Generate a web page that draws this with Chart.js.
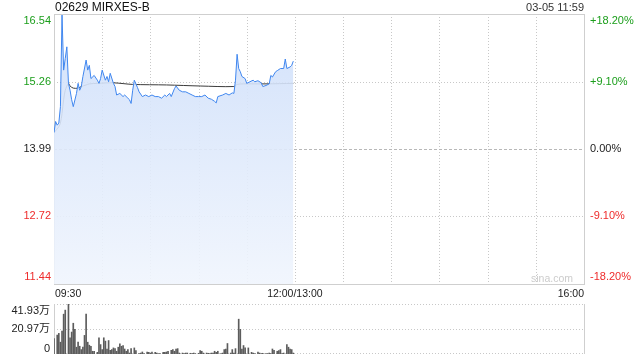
<!DOCTYPE html>
<html>
<head>
<meta charset="utf-8">
<script src="https://cdn.jsdelivr.net/npm/chart.js@4.4.0/dist/chart.umd.min.js"></script>
<style>
  body { margin: 0; background: #fff; width: 640px; height: 360px; overflow: hidden; position: relative; }
  canvas { position: absolute; left: 0; }
  #main { top: 0; }
  #vol { top: 300px; }
</style>
</head>
<body>
<canvas id="main" width="640" height="300" style="width:640px;height:300px"></canvas>
<canvas id="vol" width="640" height="60" style="width:640px;height:60px"></canvas>
<script>
// minutes since 09:30 (lunch break removed, 150 = 12:00/13:00)
var priceMinutes = [0, 1, 2, 3, 4, 5, 6, 7, 8, 9, 10, 11, 12, 14, 15, 16, 17, 18, 20, 21, 22, 23, 25, 27, 28, 29, 30, 32, 33, 34, 35, 37, 38, 39, 41, 43, 44, 46, 47, 48, 49, 50, 52, 53, 55, 57, 59, 61, 63, 65, 67, 69, 70, 72, 73, 75, 76, 78, 80, 82, 84, 86, 88, 90, 92, 94, 96, 98, 100, 101, 102, 105, 107, 109, 111, 112, 113, 114, 115, 116, 117, 119, 120, 122, 124, 125, 127, 129, 130, 132, 134, 135, 136, 138, 139, 141, 143, 144, 145, 147, 148, 149];
var prices = [14.30, 14.51, 14.44, 14.48, 14.79, 16.52, 15.48, 15.70, 15.92, 15.23, 15.10, 14.92, 14.79, 15.04, 15.23, 15.10, 15.17, 15.36, 15.67, 15.48, 15.57, 15.32, 15.38, 15.29, 15.23, 15.32, 15.48, 15.29, 15.36, 15.26, 15.42, 15.23, 15.17, 15.01, 15.04, 14.98, 15.01, 14.95, 14.92, 14.85, 15.10, 15.29, 15.15, 15.07, 14.98, 15.01, 14.98, 15.01, 14.98, 14.98, 14.95, 15.01, 14.98, 15.04, 14.98, 15.13, 15.18, 15.10, 15.07, 15.07, 15.04, 15.01, 14.98, 14.98, 14.98, 15.01, 14.95, 14.93, 14.89, 14.86, 14.98, 15.01, 15.04, 15.01, 15.05, 15.04, 15.29, 15.78, 15.51, 15.45, 15.36, 15.32, 15.23, 15.26, 15.29, 15.26, 15.28, 15.24, 15.17, 15.19, 15.22, 15.38, 15.35, 15.45, 15.47, 15.51, 15.51, 15.69, 15.51, 15.54, 15.57, 15.65];

var avgMinutes = [0, 3, 4, 5, 6, 7, 9, 10, 12, 15, 17, 20, 22, 27, 37, 49, 70, 91, 112, 114, 118, 132, 149];
var avgPrices = [14.30, 14.41, 14.48, 14.66, 14.92, 15.10, 15.23, 15.18, 15.14, 15.14, 15.17, 15.20, 15.22, 15.23, 15.24, 15.21, 15.20, 15.18, 15.17, 15.21, 15.22, 15.22, 15.23];

// volume in 万 shares
var volMinutes = [0, 2, 3, 4, 5, 6, 7, 9, 10, 11, 12, 13, 14, 15, 16, 17, 18, 19, 20, 21, 22, 23, 24, 25, 27, 28, 29, 30, 31, 32, 33, 34, 35, 36, 37, 38, 39, 40, 41, 42, 43, 44, 45, 46, 47, 48,
  50, 51, 53, 54, 55, 56, 58, 59, 60, 61, 63, 64, 65, 66, 68, 69, 70, 71, 73, 74, 75, 76, 77, 78, 80, 81, 82, 83, 85, 86, 87, 88, 90, 91, 92, 93, 95, 96, 97, 98,
  99, 100, 101, 102, 104, 105, 106, 107, 108, 110, 111, 112, 113, 115, 116, 117, 118, 119, 121, 123, 124, 125, 127, 128, 129, 130, 132, 133, 134, 135, 136, 137, 139, 140, 141, 142, 143, 145, 146, 147, 148, 149];
var volumes = [13.0, 15.9, 17.3, 9.9, 19.3, 33.4, 36.8, 41.93, 13.6, 18.4, 25.8, 20.7, 5.7, 9.9, 6.5, 3.7, 5.7, 15.6, 33.4, 9.9, 7.4, 6.5, 2.3, 2.3, 1.4, 13.6, 7.9, 3.7, 13.6, 10.8, 4.2, 11.3, 3.1, 3.7, 5.1, 4.5, 2.3, 5.7, 8.5, 6.5, 7.1, 4.2, 2.3, 3.7, 0.8, 4.5,
  5.1, 2.8, 0.3, 0.8, 1.7, 0.3, 1.7, 1.4, 0.8, 1.7, 1.4, 0.8, 0.3, 0.3, 1.4, 1.4, 1.7, 2.3, 3.1, 3.7, 2.3, 4.2, 4.5, 0.8, 0.8, 0.3, 0.8, 0.8, 0.6, 0.3, 0.8, 0.3, 0.6, 2.8, 2.3, 0.8, 0.8, 0.6, 0.3, 0.8,
  0.8, 2.3, 1.4, 2.3, 0.3, 0.8, 3.7, 4.2, 8.8, 0.8, 3.7, 0.8, 4.5, 29.2, 20.7, 4.2, 7.1, 5.1, 5.1, 1.4, 0.8, 0.3, 1.7, 0.8, 0.3, 0.6, 0.3, 0.3, 0.8, 0.3, 4.2, 3.1, 2.3, 2.8, 3.7, 0.3, 0.8, 7.9, 5.7, 4.2, 3.7, 0.8];

var priceTicks = [16.54, 15.26, 13.99, 12.72, 11.44];
var pctLabels = ['+18.20%', '+9.10%', '0.00%', '-9.10%', '-18.20%'];
var timeTicks = [0, 150, 330];
var timeLabels = ['09:30', '12:00/13:00', '16:00'];
var volTicks = [41.93, 20.97, 0];
var volLabels = ['41.93万', '20.97万', '0'];

var FONT = '"Liberation Sans", Arial, "Noto Sans CJK SC", sans-serif';
var GREEN = '#1b9e1b';
var RED = '#ee2b2b';

function tickColor(i) {
  if (i < 2) return GREEN;
  if (i > 2) return RED;
  return '#222';
}

function crisp(v) { return Math.round(v) + 0.5; }

var mainFrame = {
  id: 'mainFrame',
  beforeDatasetsDraw: function(chart) {
    var c = chart.ctx, a = chart.chartArea;
    var xs = chart.scales.x, ys = chart.scales.y;
    c.save();
    c.lineWidth = 1;
    c.strokeStyle = '#c8c8c8';
    c.setLineDash([1, 2]);
    for (var m = 30; m < 330; m += 30) {
      var px = crisp(xs.getPixelForValue(m));
      c.beginPath(); c.moveTo(px, a.top); c.lineTo(px, a.bottom); c.stroke();
    }
    for (var i = 1; i < priceTicks.length - 1; i++) {
      var py = crisp(ys.getPixelForValue(priceTicks[i]));
      if (i === 2) { c.setLineDash([3, 2]); c.strokeStyle = '#b8b8b8'; }
      else { c.setLineDash([1, 2]); c.strokeStyle = '#c8c8c8'; }
      c.beginPath(); c.moveTo(a.left, py); c.lineTo(a.right, py); c.stroke();
    }
    c.setLineDash([]);
    c.strokeStyle = '#cfcfcf';
    c.strokeRect(crisp(a.left), crisp(a.top), Math.round(a.right - a.left), Math.round(a.bottom - a.top));
    c.restore();
  },
  afterDraw: function(chart) {
    var c = chart.ctx, a = chart.chartArea;
    var xs = chart.scales.x, ys = chart.scales.y;
    c.save();
    c.textBaseline = 'middle';
    c.font = '12px ' + FONT;
    c.fillStyle = '#111';
    c.textAlign = 'left';
    c.fillText('02629 MIRXES-B', 55, 7.5);
    c.font = '11px ' + FONT;
    c.fillStyle = '#333';
    c.textAlign = 'right';
    c.fillText('03-05 11:59', a.right, 7.5);

    for (var i = 0; i < priceTicks.length; i++) {
      var py = ys.getPixelForValue(priceTicks[i]);
      if (i === 0) py += 7;
      if (i === priceTicks.length - 1) py -= 7;
      c.fillStyle = tickColor(i);
      c.textAlign = 'right';
      c.fillText(priceTicks[i].toFixed(2), 51, py);
      c.textAlign = 'left';
      c.fillText(pctLabels[i], 590, py);
    }

    c.font = '10.5px ' + FONT;
    c.fillStyle = '#222';
    for (var j = 0; j < timeTicks.length; j++) {
      var px = xs.getPixelForValue(timeTicks[j]);
      c.textAlign = j === 0 ? 'left' : (j === timeTicks.length - 1 ? 'right' : 'center');
      c.fillText(timeLabels[j], j === 0 ? px + 1 : px, 294);
    }

    c.font = '10.5px ' + FONT;
    c.fillStyle = '#cccccc';
    c.textAlign = 'right';
    c.fillText('sina.com', 573, a.bottom - 5);
    c.restore();
  }
};

var volFrame = {
  id: 'volFrame',
  beforeDatasetsDraw: function(chart) {
    var c = chart.ctx, a = chart.chartArea;
    var ys = chart.scales.y;
    c.save();
    c.lineWidth = 1;
    c.strokeStyle = '#c8c8c8';
    c.setLineDash([1, 2]);
    for (var i = 0; i < volTicks.length; i++) {
      var py = crisp(ys.getPixelForValue(volTicks[i]));
      if (i === volTicks.length - 1) py = crisp(a.bottom - 1);
      c.beginPath(); c.moveTo(a.left, py); c.lineTo(a.right, py); c.stroke();
    }
    c.setLineDash([]);
    c.strokeStyle = '#cfcfcf';
    c.beginPath();
    c.moveTo(crisp(a.left), a.top); c.lineTo(crisp(a.left), a.bottom);
    c.moveTo(crisp(a.right), a.top); c.lineTo(crisp(a.right), a.bottom);
    c.stroke();
    c.restore();
  },
  afterDraw: function(chart) {
    var c = chart.ctx;
    var ys = chart.scales.y;
    c.save();
    c.textBaseline = 'middle';
    c.font = '11px ' + FONT;
    c.fillStyle = '#222';
    c.textAlign = 'right';
    for (var i = 0; i < volTicks.length; i++) {
      var py = ys.getPixelForValue(volTicks[i]);
      if (i === 0) py += 7;
      if (i === volTicks.length - 1) py -= 5;
      c.fillText(volLabels[i], 50, py);
    }
    c.restore();
  }
};

function fillGradient(context) {
  var chart = context.chart;
  var a = chart.chartArea;
  if (!a) return 'rgba(214,228,250,0.8)';
  var g = chart.ctx.createLinearGradient(0, a.top, 0, a.bottom);
  g.addColorStop(0, 'rgba(205,222,250,0.9)');
  g.addColorStop(1, 'rgba(240,245,253,0.9)');
  return g;
}

new Chart(document.getElementById('main').getContext('2d'), {
  type: 'line',
  data: {
    datasets: [{
      label: '价格',
      data: priceMinutes.map(function(m, i) { return { x: m, y: prices[i] }; }),
      borderColor: '#3f86ef',
      borderWidth: 1,
      backgroundColor: fillGradient,
      fill: 'start',
      pointRadius: 0,
      tension: 0
    }, {
      label: '均价',
      data: avgMinutes.map(function(m, i) { return { x: m, y: avgPrices[i] }; }),
      borderColor: '#3a3a3a',
      borderWidth: 1,
      fill: false,
      pointRadius: 0,
      tension: 0.3
    }]
  },
  options: {
    responsive: false,
    animation: false,
    layout: { padding: { left: 54, right: 56, top: 14, bottom: 16 } },
    plugins: { legend: { display: false }, tooltip: { enabled: false } },
    scales: {
      x: { type: 'linear', min: 0, max: 330, display: false },
      y: { type: 'linear', min: priceTicks[4], max: priceTicks[0], display: false }
    }
  },
  plugins: [mainFrame]
});

new Chart(document.getElementById('vol').getContext('2d'), {
  type: 'bar',
  data: {
    datasets: [{
      label: '成交量',
      data: volMinutes.map(function(m, i) { return { x: m, y: volumes[i] }; }),
      backgroundColor: '#5c5c5c',
      barThickness: 1
    }]
  },
  options: {
    responsive: false,
    animation: false,
    layout: { padding: { left: 54, right: 56, top: 4, bottom: 6 } },
    plugins: { legend: { display: false }, tooltip: { enabled: false } },
    scales: {
      x: { type: 'linear', min: 0, max: 330, display: false, offset: false },
      y: { min: 0, max: volTicks[0], display: false }
    }
  },
  plugins: [volFrame]
});
</script>
</body>
</html>
